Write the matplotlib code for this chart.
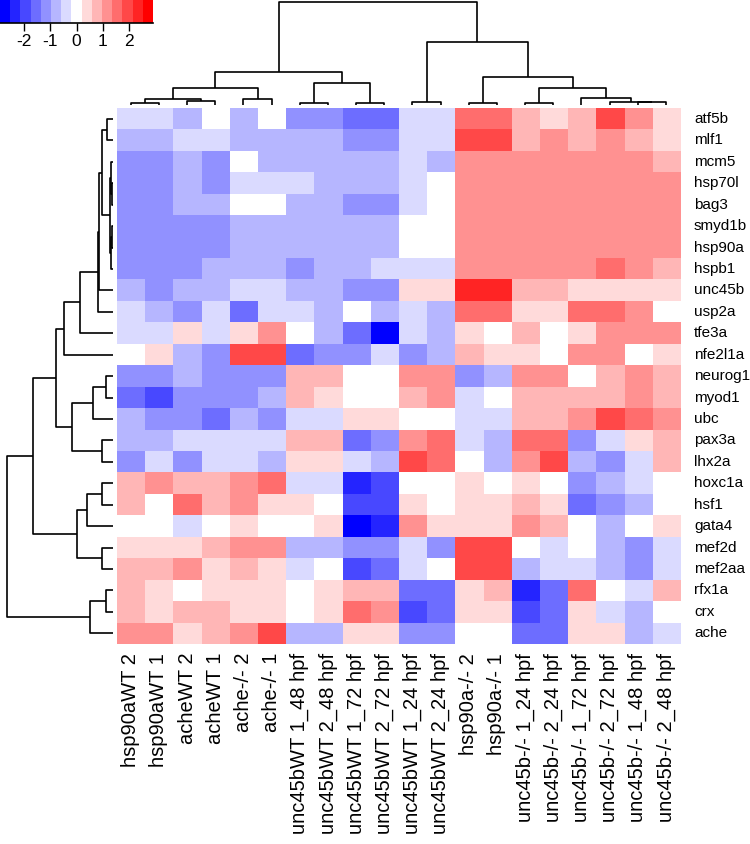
import numpy as np
import matplotlib
matplotlib.use('Agg')
import matplotlib.pyplot as plt
from matplotlib.colors import LinearSegmentedColormap, BoundaryNorm

plt.rcParams['font.family'] = ['Liberation Sans', 'DejaVu Sans']
plt.rcParams['axes.unicode_minus'] = False

W, H = 750, 844

samples = ['hsp90aWT 2', 'hsp90aWT 1', 'acheWT 2', 'acheWT 1', 'ache-/- 2', 'ache-/- 1',
           'unc45bWT 1_48 hpf', 'unc45bWT 2_48 hpf', 'unc45bWT 1_72 hpf', 'unc45bWT 2_72 hpf',
           'unc45bWT 1_24 hpf', 'unc45bWT 2_24 hpf', 'hsp90a-/- 2', 'hsp90a-/- 1',
           'unc45b-/- 1_24 hpf', 'unc45b-/- 2_24 hpf', 'unc45b-/- 1_72 hpf', 'unc45b-/- 2_72 hpf',
           'unc45b-/- 1_48 hpf', 'unc45b-/- 2_48 hpf']

genes = ['atf5b', 'mlf1', 'mcm5', 'hsp70l', 'bag3', 'smyd1b', 'hsp90a', 'hspb1', 'unc45b',
         'usp2a', 'tfe3a', 'nfe2l1a', 'neurog1', 'myod1', 'ubc', 'pax3a', 'lhx2a', 'hoxc1a',
         'hsf1', 'gata4', 'mef2d', 'mef2aa', 'rfx1a', 'crx', 'ache']

# row z-scores, one list per gene (same order as genes / samples)
zscore = [
    [-0.4, -0.4, -0.8, 0, -0.8, 0, -1.2, -1.2, -1.6, -1.6, -0.4, -0.4, 1.6, 1.6, 0.8, 0.4, 0.8, 2.0, 1.2, 0.4],
    [-0.8, -0.8, -0.4, -0.4, -0.8, -0.8, -0.8, -0.8, -1.2, -1.2, -0.4, -0.4, 2.0, 2.0, 0.8, 1.2, 0.8, 1.2, 0.8, 0.4],
    [-1.2, -1.2, -0.8, -1.2, 0, -0.8, -0.8, -0.8, -0.8, -0.8, -0.4, -0.8, 1.2, 1.2, 1.2, 1.2, 1.2, 1.2, 1.2, 0.8],
    [-1.2, -1.2, -0.8, -1.2, -0.4, -0.4, -0.4, -0.8, -0.8, -0.8, -0.4, 0, 1.2, 1.2, 1.2, 1.2, 1.2, 1.2, 1.2, 1.2],
    [-1.2, -1.2, -0.8, -0.8, 0, 0, -0.8, -0.8, -1.2, -1.2, -0.4, 0, 1.2, 1.2, 1.2, 1.2, 1.2, 1.2, 1.2, 1.2],
    [-1.2, -1.2, -1.2, -1.2, -0.8, -0.8, -0.8, -0.8, -0.8, -0.8, 0, 0, 1.2, 1.2, 1.2, 1.2, 1.2, 1.2, 1.2, 1.2],
    [-1.2, -1.2, -1.2, -1.2, -0.8, -0.8, -0.8, -0.8, -0.8, -0.8, 0, 0, 1.2, 1.2, 1.2, 1.2, 1.2, 1.2, 1.2, 1.2],
    [-1.2, -1.2, -1.2, -0.8, -0.8, -0.8, -1.2, -0.8, -0.8, -0.4, -0.4, -0.4, 1.2, 1.2, 1.2, 1.2, 1.2, 1.6, 1.2, 0.8],
    [-0.8, -1.2, -0.8, -0.8, -0.4, -0.4, -0.8, -0.8, -1.2, -1.2, 0.4, 0.4, 2.3, 2.3, 0.8, 0.8, 0.4, 0.4, 0.4, 0.4],
    [-0.4, -0.8, -1.2, -0.4, -1.6, -0.4, -0.4, -0.8, 0, -0.8, -0.4, -0.8, 1.6, 1.6, 0.4, 0.4, 1.6, 1.6, 1.2, 0],
    [-0.4, -0.4, 0.4, -0.4, 0.4, 1.2, 0, -0.8, -1.6, -2.7, -0.4, -0.8, 0.4, 0, 0.8, 0, 0.4, 1.2, 1.2, 1.2],
    [0, 0.4, -0.8, -1.2, 2.0, 2.0, -1.6, -1.2, -1.2, -0.4, -1.2, -0.8, 0.8, 0.4, 0.4, 0, 1.2, 1.2, 0, 0.4],
    [-1.2, -1.2, -0.8, -1.2, -1.2, -1.2, 0.8, 0.8, 0, 0, 1.2, 1.2, -1.2, -0.8, 1.2, 1.2, 0, 0.8, 1.2, 0.8],
    [-1.6, -2.0, -1.2, -1.2, -1.2, -0.8, 0.8, 0.4, 0, 0, 0.8, 1.2, -0.4, 0, 0.8, 0.8, 0.8, 0.8, 1.2, 0.8],
    [-0.8, -1.2, -1.2, -1.6, -0.8, -1.2, -0.4, -0.4, 0.4, 0.4, 0, 0, -0.4, -0.4, 0.8, 0.8, 1.2, 2.0, 1.6, 1.2],
    [-0.8, -0.8, -0.4, -0.4, -0.4, -0.4, 0.8, 0.8, -1.6, -1.2, 1.2, 1.6, -0.4, -0.8, 1.6, 1.6, -1.2, -0.4, 0.4, 0.8],
    [-1.2, -0.4, -1.2, -0.4, -0.4, -0.8, 0.4, 0.4, -0.4, -0.8, 2.0, 1.6, 0, -0.8, 1.2, 2.0, -0.8, -1.2, -0.4, 0.8],
    [0.8, 1.2, 0.8, 0.8, 1.2, 1.6, -0.4, -0.4, -2.3, -2.0, 0, 0, 0.4, 0, 0.4, 0, -1.2, -0.8, -0.4, 0],
    [0.8, 0, 1.6, 0.8, 1.2, 0.4, 0.4, 0, -2.0, -2.0, 0.4, 0, 0.4, 0.4, 0.8, 0.4, -1.6, -1.2, -0.8, 0],
    [0, 0, -0.4, 0, 0.4, 0, 0, 0.4, -2.7, -2.3, 1.2, 0.4, 0.4, 0.4, 1.2, 0.8, 0, -0.8, 0, 0.4],
    [0.4, 0.4, 0.4, 0.8, 1.2, 1.2, -0.8, -0.8, -1.2, -1.2, -0.4, -1.2, 2.0, 2.0, 0, -0.4, 0, -0.8, -1.2, -0.4],
    [0.8, 0.8, 1.2, 0.4, 0.8, 0.4, -0.4, 0, -2.0, -1.6, -0.4, 0, 2.0, 2.0, -0.8, -0.4, -0.4, -0.8, -1.2, -0.4],
    [0.8, 0.4, 0, 0.4, 0.4, 0.4, 0, 0.4, 0.8, 0.8, -1.6, -1.6, 0.4, 0.8, -2.3, -1.6, 1.6, 0, -0.4, 0.8],
    [0.8, 0.4, 0.8, 0.8, 0.4, 0.4, 0, 0.4, 1.6, 1.2, -2.0, -1.6, 0.4, 0.4, -2.0, -1.6, 0.4, -0.4, -0.8, 0],
    [1.2, 1.2, 0.4, 0.8, 1.2, 2.0, -0.8, -0.8, 0.4, 0.4, -1.2, -1.2, 0, 0, -1.6, -1.6, 0.4, 0.4, -0.8, -0.4],
]

# dendrograms: (left child, right child, height); children < n are leaves
col_merges = [(0, 1, 1.8), (2, 3, 3.5), (20, 21, 5.2), (4, 5, 5.8), (22, 23, 16.2),
              (6, 7, 1.8), (8, 9, 1.8), (25, 26, 21.2), (24, 27, 32.8),
              (10, 11, 2.5), (12, 13, 1.5), (14, 15, 1.8), (18, 19, 2.2), (17, 32, 2.8),
              (16, 33, 6.8), (31, 34, 16.2), (30, 35, 27.8), (29, 36, 62.8), (28, 37, 102.8)]

row_merges = [(5, 6, 0.8), (3, 4, 1.5), (2, 26, 2.5), (25, 7, 2.0), (27, 28, 3.5),
              (0, 1, 6.3), (30, 29, 10.7), (31, 8, 13.7), (32, 9, 15.3), (33, 10, 33.0),
              (34, 11, 49.0), (12, 13, 7.0), (36, 14, 20.3), (15, 16, 11.3), (37, 38, 41.3),
              (35, 39, 57.0), (17, 18, 11.3), (41, 19, 25.7), (20, 21, 11.3), (42, 43, 35.7),
              (40, 44, 80.3), (22, 23, 7.0), (46, 24, 23.0), (45, 47, 105.7)]

key_max = 2.93
n_colors = 15


def px_axes(fig, x0, y0, x1, y1):
    return fig.add_axes([x0 / W, 1 - y1 / H, (x1 - x0) / W, (y1 - y0) / H])


def draw_dendro(ax, merges, n, horizontal=False):
    pos = {i: float(i) for i in range(n)}
    hgt = {i: 0.0 for i in range(n)}
    for k, (a, b, h) in enumerate(merges):
        xs = [pos[a], pos[a], pos[b], pos[b]]
        ys = [hgt[a], h, h, hgt[b]]
        if horizontal:
            ax.plot(ys, xs, color='black', lw=1.2, solid_capstyle='butt')
        else:
            ax.plot(xs, ys, color='black', lw=1.2, solid_capstyle='butt')
        pos[n + k] = (pos[a] + pos[b]) / 2
        hgt[n + k] = h
    ax.axis('off')


fig = plt.figure(figsize=(W / 100, H / 100), dpi=100)
cmap = LinearSegmentedColormap.from_list('bwr15', ['#0000FF', '#FFFFFF', '#FF0000'], N=n_colors)
bounds = np.linspace(-key_max, key_max, n_colors + 1)
norm = BoundaryNorm(bounds, cmap.N)

# heatmap
hx0, hy0, hx1, hy1 = 116.7, 108.3, 680.0, 644.0
ax = px_axes(fig, hx0, hy0, hx1, hy1)
ax.imshow(np.array(zscore), cmap=cmap, norm=norm, aspect='auto', interpolation='nearest')
ax.set_xticks([])
ax.set_yticks([])
for s in ax.spines.values():
    s.set_visible(False)
for i, g in enumerate(genes):
    ax.text(1 + 14 / (hx1 - hx0), i, g, transform=ax.get_yaxis_transform(),
            ha='left', va='center', fontsize=11)
for j, s in enumerate(samples):
    ax.text(j, len(genes) - 0.5 + 9 / ((hy1 - hy0) / len(genes)), s, rotation=90,
            ha='center', va='top', fontsize=14.5)

# column dendrogram
axc = px_axes(fig, hx0, 0, hx1, 104.5)
draw_dendro(axc, col_merges, len(samples))
axc.set_xlim(-0.5, len(samples) - 0.5)
axc.set_ylim(0, 104.5)

# row dendrogram
axr = px_axes(fig, 0, hy0, 113, hy1)
draw_dendro(axr, row_merges, len(genes), horizontal=True)
axr.set_ylim(len(genes) - 0.5, -0.5)
axr.set_xlim(113, 0)

# color key
axk = px_axes(fig, 0, 0, 153, 22.7)
axk.imshow(np.linspace(-key_max, key_max, n_colors)[None, :] * (1 - 1e-6), cmap=cmap, norm=norm,
           aspect='auto', extent=(-key_max, key_max, 0, 1), interpolation='nearest')
axk.set_xlim(-key_max, key_max)
axk.set_yticks([])
axk.set_xticks([-2, -1, 0, 1, 2])
axk.tick_params(axis='x', length=6, width=1, labelsize=12.5, pad=2)
for side in ['top', 'left', 'right']:
    axk.spines[side].set_visible(False)
axk.spines['bottom'].set_linewidth(1.2)

fig.savefig('out.png', dpi=100, facecolor='white')
